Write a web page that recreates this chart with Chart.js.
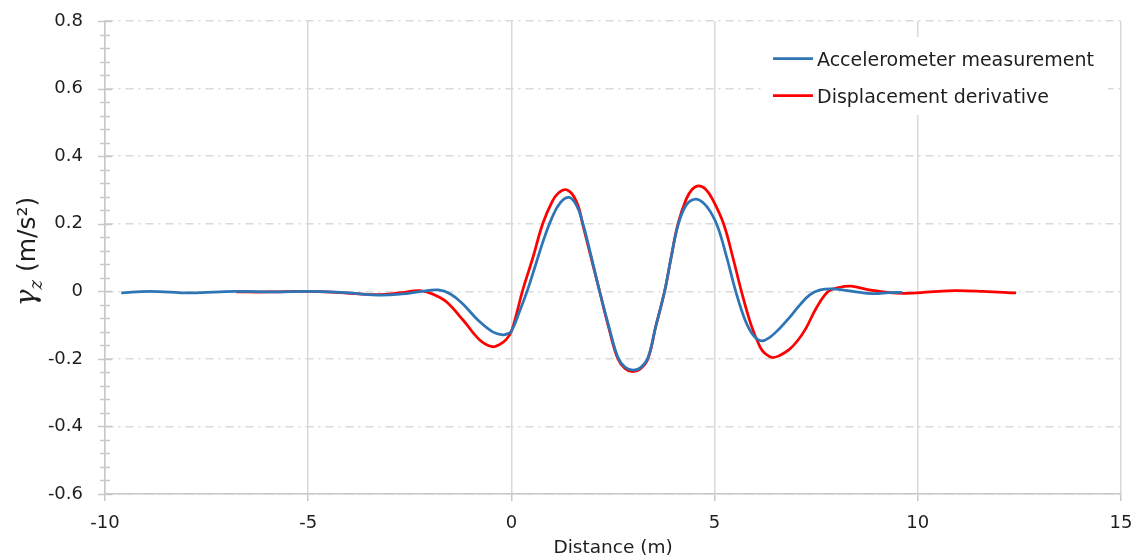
<!DOCTYPE html>
<html>
<head>
<meta charset="utf-8">
<script src="https://cdn.jsdelivr.net/npm/chart.js@4.4.1/dist/chart.umd.min.js"></script>
<style>
  html, body { margin: 0; padding: 0; background: #fff; }
</style>
</head>
<body>
<canvas id="myChart" width="1138" height="560"></canvas>
<script>
// accelerometer (blue)
var accelX = [-9.6, -8.9, -7.9, -6.8, -5.8, -5.0, -4.2, -3.3, -2.7, -2.2, -1.8, -1.5, -1.2, -0.8, -0.45, -0.22,
  -0.1, 0.0, 0.2, 0.4, 0.6, 0.8, 1.0, 1.2, 1.42, 1.6, 1.75, 1.95, 2.17, 2.4, 2.62, 2.8, 3.0, 3.18, 3.36, 3.55,
  3.77, 3.93, 4.1, 4.3, 4.53, 4.72, 4.9, 5.08, 5.3, 5.52, 5.75, 5.95, 6.15, 6.35, 6.6, 6.84, 7.1, 7.35, 7.6,
  7.91, 8.4, 8.89, 9.3, 9.62];
var accelY = [-0.005, 0.0, -0.005, 0.0, -0.002, 0.0, -0.003, -0.011, -0.008, 0.0, 0.004, -0.008, -0.037, -0.088, -0.121, -0.129,
  -0.126, -0.118, -0.06, 0.005, 0.08, 0.155, 0.218, 0.262, 0.278, 0.255, 0.205, 0.11, 0.0, -0.105, -0.195, -0.225, -0.233, -0.226, -0.197, -0.105,
  0.0, 0.1, 0.195, 0.255, 0.273, 0.262, 0.235, 0.19, 0.1, 0.0, -0.085, -0.13, -0.147, -0.137, -0.11, -0.078, -0.04, -0.01, 0.004,
  0.007, 0.0, -0.007, -0.004, -0.003];

// displacement derivative (red)
var dispX = [-6.77, -6.0, -5.0, -4.2, -3.3, -2.7, -2.26, -1.9, -1.6, -1.19, -0.78, -0.47, -0.3, -0.13, 0.0, 0.13,
  0.27, 0.53, 0.77, 1.0, 1.15, 1.33, 1.5, 1.65, 1.75, 1.95, 2.17, 2.4, 2.62, 2.8, 2.99, 3.18, 3.36, 3.55, 3.77,
  3.93, 4.1, 4.3, 4.45, 4.61, 4.78, 4.95, 5.22, 5.45, 5.66, 5.9, 6.12, 6.25, 6.42, 6.6, 6.84, 7.05, 7.25, 7.5,
  7.8, 8.05, 8.36, 8.8, 9.3, 9.7, 10.3, 10.9, 11.6, 12.42];
var dispY = [-0.002, -0.002, 0.0, -0.004, -0.01, -0.004, 0.002, -0.01, -0.031, -0.085, -0.144, -0.164, -0.158, -0.143, -0.118, -0.065,
  0.0, 0.1, 0.2, 0.265, 0.29, 0.301, 0.287, 0.25, 0.2, 0.105, 0.0, -0.11, -0.2, -0.229, -0.238, -0.229, -0.2, -0.105, 0.0,
  0.1, 0.2, 0.272, 0.302, 0.312, 0.302, 0.272, 0.2, 0.1, 0.0, -0.1, -0.165, -0.185, -0.196, -0.19, -0.172, -0.145, -0.109, -0.05,
  0.0, 0.011, 0.015, 0.004, -0.004, -0.006, -0.002, 0.002, 0.0, -0.005];

var seriesNames = ["Accelerometer measurement", "Displacement derivative"];
var seriesColors = ["#2e75b6", "#ff0000"];
var xTitle = "Distance (m)";

function toPoints(xs, ys) {
  return xs.map(function (x, i) { return { x: x, y: ys[i] }; });
}

Chart.defaults.font.family = "'DejaVu Sans'";
Chart.defaults.font.size = 18;
Chart.defaults.color = "#1e1e1e";

// y axis ticks crossing the axis line, with minor ticks
var yTickMarks = {
  id: 'yTickMarks',
  afterDraw: function (chart) {
    var ctx = chart.ctx, y = chart.scales.y, ax = chart.chartArea.left;
    ctx.save();
    ctx.strokeStyle = "#c8c8c8";
    ctx.lineWidth = 1.5;
    for (var i = 0; i <= 35; i++) {
      var v = -0.6 + i * 0.04;
      var py = Math.round(y.getPixelForValue(v)) + 0.5;
      var len = (i % 5 === 0) ? 7 : 5;
      ctx.beginPath();
      ctx.moveTo(ax - len, py);
      ctx.lineTo(ax + len, py);
      ctx.stroke();
    }
    ctx.restore();
  }
};

// y axis title with subscript
var yTitle = {
  id: 'yTitle',
  afterDraw: function (chart) {
    var ctx = chart.ctx, a = chart.chartArea;
    var parts = [
      { t: "γ", f: "italic 28px 'DejaVu Serif'", dy: 0 },
      { t: "z", f: "italic 18px 'DejaVu Serif'", dy: 7 },
      { t: " (m/s²)", f: "25px 'DejaVu Sans'", dy: 0 }
    ];
    ctx.save();
    ctx.translate(27, (a.top + a.bottom) / 2 - 6);
    ctx.rotate(-Math.PI / 2);
    ctx.fillStyle = "#1e1e1e";
    ctx.textBaseline = "alphabetic";
    var total = 0;
    parts.forEach(function (p) { ctx.font = p.f; p.w = ctx.measureText(p.t).width; total += p.w; });
    var x = -total / 2;
    parts.forEach(function (p) {
      ctx.font = p.f;
      ctx.fillText(p.t, x, 8 + p.dy);
      x += p.w;
    });
    ctx.restore();
  }
};

// legend box inside plot area
var boxLegend = {
  id: 'boxLegend',
  afterDraw: function (chart) {
    var ctx = chart.ctx;
    ctx.save();
    ctx.fillStyle = "#ffffff";
    ctx.fillRect(765, 37, 343, 78);
    ctx.font = "19px 'DejaVu Sans'";
    ctx.textBaseline = "alphabetic";
    chart.data.datasets.forEach(function (ds, i) {
      var ly = 58.5 + i * 37;
      ctx.strokeStyle = ds.borderColor;
      ctx.lineWidth = 2.75;
      ctx.beginPath();
      ctx.moveTo(773, ly);
      ctx.lineTo(813, ly);
      ctx.stroke();
      ctx.fillStyle = "#1e1e1e";
      ctx.fillText(ds.label, 817, ly + 7);
    });
    ctx.restore();
  }
};

var ctx = document.getElementById('myChart');

var myChart = new Chart(ctx, {
  type: 'line',
  data: {
    datasets: [
      {
        label: seriesNames[0],
        data: toPoints(accelX, accelY),
        borderColor: seriesColors[0],
        borderWidth: 2.75,
        pointRadius: 0,
        tension: 0.4,
        fill: false
      },
      {
        label: seriesNames[1],
        data: toPoints(dispX, dispY),
        borderColor: seriesColors[1],
        borderWidth: 2.75,
        pointRadius: 0,
        tension: 0.4,
        fill: false
      }
    ]
  },
  options: {
    responsive: false,
    animation: false,
    layout: { padding: { top: 21, right: 17, bottom: 0, left: 0 } },
    plugins: {
      legend: { display: false },
      tooltip: { enabled: false }
    },
    scales: {
      x: {
        type: 'linear',
        min: -10,
        max: 15,
        ticks: {
          stepSize: 5,
          padding: 12,
          callback: function (v) { return String(v); }
        },
        grid: { color: "#d9d9d9", lineWidth: 1.5, tickLength: 7, tickColor: "#c8c8c8" },
        border: { color: "#c8c8c8", width: 1.5 },
        title: { display: true, text: xTitle, font: { size: 18.5 }, padding: { top: 0, bottom: 1 } },
        afterFit: function (scale) {
          scale.height = 66;
          scale.paddingLeft = 0;
          scale.paddingRight = 0;
        }
      },
      y: {
        min: -0.6,
        max: 0.8,
        ticks: {
          stepSize: 0.2,
          padding: 22,
          callback: function (v) { return Math.abs(v) < 1e-9 ? '0' : v.toFixed(1); }
        },
        grid: { color: "#d9d9d9", lineWidth: 1.5, drawTicks: false },
        border: { color: "#c8c8c8", width: 1.5, dash: [8, 5, 2, 5] },
        afterFit: function (scale) {
          scale.width = 105;
          scale.paddingTop = 0;
          scale.paddingBottom = 0;
        }
      }
    }
  },
  plugins: [yTickMarks, yTitle, boxLegend]
});
</script>
</body>
</html>
